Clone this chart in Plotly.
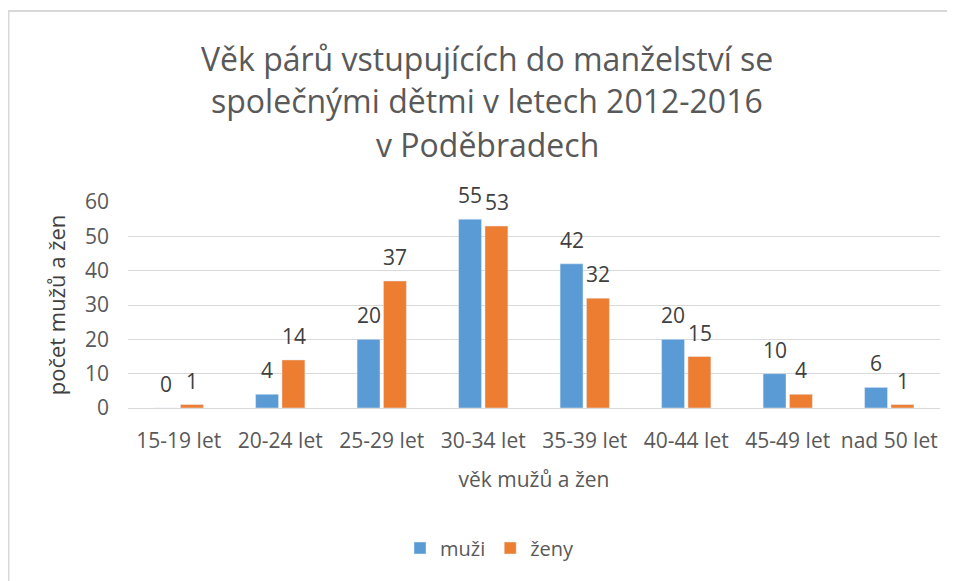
import plotly.graph_objects as go

categories = ["15-19 let", "20-24 let", "25-29 let", "30-34 let", "35-39 let", "40-44 let", "45-49 let", "nad 50 let"]
muzi = [0, 4, 20, 55, 42, 20, 10, 6]
zeny = [1, 14, 37, 53, 32, 15, 4, 1]
series_names = ["muži", "ženy"]
title_lines = ["Věk párů vstupujících do manželství se", "společnými dětmi v letech 2012-2016", "v Poděbradech"]
y_ticks = [0, 10, 20, 30, 40, 50, 60]

FONT = "Open Sans"
GRAY = "#595959"
OFF = 8  # page body margin
W, H = 955 - OFF, 581 - OFF
SL, SR, ST, SB = 128, 940, 202, 408
L, T = SL - OFF, ST - OFF
R = W - (SR - OFF)
B = H - (SB - OFF)
pw, ph = SR - SL, SB - ST

def px_x(p):
    return (p - SL) / pw

def px_y(p):
    return (SB - p) / ph

fig = go.Figure()
fig.add_trace(go.Bar(name=series_names[0], x=categories, y=muzi, marker_color="#5B9BD5"))
fig.add_trace(go.Bar(name=series_names[1], x=categories, y=zeny, marker_color="#ED7D31"))

annotations = []
for line, yc in zip(title_lines, [58, 100, 145]):
    annotations.append(dict(text=line, xref="paper", yref="paper", x=px_x(487), y=px_y(yc),
                            xanchor="center", yanchor="middle", showarrow=False,
                            font=dict(family=FONT, size=32, color=GRAY)))
for vals, shift in [(muzi, -13.25), (zeny, 13.25)]:
    for c, v in zip(categories, vals):
        annotations.append(dict(text=str(v), x=c, y=v, xref="x", yref="y", xshift=shift, yshift=8,
                                xanchor="center", yanchor="bottom", showarrow=False,
                                font=dict(family=FONT, size=21, color="#404040")))

fig.update_layout(
    width=W, height=H,
    margin=dict(l=L, r=R, t=T, b=B, autoexpand=False),
    paper_bgcolor="white", plot_bgcolor="white",
    barmode="group", bargap=0.48, bargroupgap=0.13,
    font=dict(family=FONT, color=GRAY),
    showlegend=True,
    legend=dict(orientation="h", x=px_x(490), y=px_y(548), xanchor="center", yanchor="middle",
                font=dict(family=FONT, size=20, color=GRAY), itemwidth=30),
    annotations=annotations,
    shapes=[dict(type="rect", xref="paper", yref="paper", x0=px_x(8.5), x1=px_x(975), y0=px_y(600), y1=px_y(11),
                 line=dict(color="#d9d9d9", width=2), fillcolor="rgba(0,0,0,0)", layer="below")],
)
fig.update_xaxes(showgrid=False, showline=False, ticks="", ticklabelstandoff=18,
                 tickfont=dict(family=FONT, size=21, color=GRAY),
                 title=dict(text="věk mužů a žen", font=dict(family=FONT, size=21, color=GRAY), standoff=19))
fig.update_yaxes(range=[0, 60], tickvals=y_ticks, showgrid=True, gridcolor="#d9d9d9", gridwidth=1,
                 zeroline=True, zerolinecolor="#d9d9d9", zerolinewidth=1, showline=False, ticks="",
                 ticklabelstandoff=18, tickfont=dict(family=FONT, size=21, color=GRAY),
                 title=dict(text="počet mužů a žen", font=dict(family=FONT, size=22, color="#404040"), standoff=13))

fig.write_html("out.html")
